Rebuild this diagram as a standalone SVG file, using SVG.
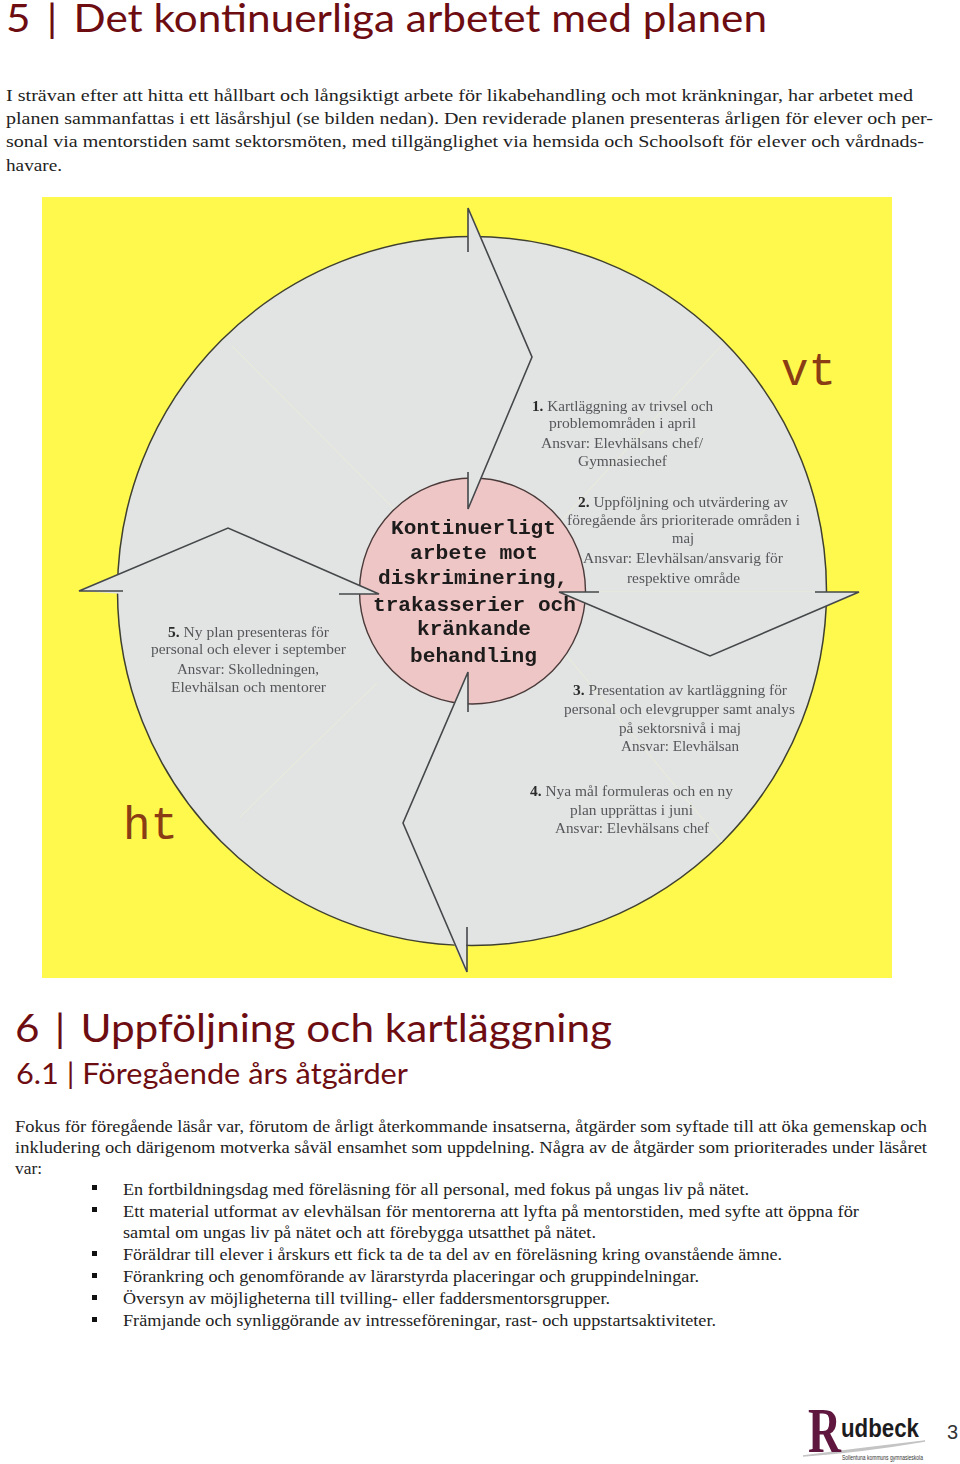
<svg xmlns="http://www.w3.org/2000/svg" width="960" height="1464" viewBox="0 0 960 1464">
<defs><filter id="soft" x="-5%" y="-5%" width="110%" height="110%"><feGaussianBlur stdDeviation="0.35"/></filter></defs>
<style>
text{white-space:pre}
.h1{font-family:"Lato","Noto Sans",sans-serif;font-size:39px;fill:#6d0d12}
.h2{font-family:"Lato","Noto Sans",sans-serif;font-size:28px;fill:#6d0d12}
.b{font-family:"Liberation Serif",serif;font-size:17px;fill:#222}
.w{font-family:"Liberation Serif",serif;font-size:14.5px;fill:#55575a}
.w tspan{font-weight:bold;fill:#2a2a2a}
.c{font-family:"Liberation Mono",monospace;font-weight:bold;font-size:21px;fill:#1d1a1a}
.s{font-family:"Liberation Mono",monospace;font-size:46px;fill:#8a3c14}
.arrow{fill:#e2e4e3;stroke:none}
.edge{fill:none;stroke:#45484a;stroke-width:1.6;stroke-linejoin:miter}
.faint{stroke:#ebecd8;stroke-width:1;fill:none}
.bul{fill:#111}
</style>
<rect width="960" height="1464" fill="#fff"/>
<g id="heading-5">
<text class="h1" x="6" y="32" textLength="761" lengthAdjust="spacingAndGlyphs">5 <tspan dx="5">|</tspan> <tspan dx="5">Det</tspan> kontinuerliga arbetet med planen</text>
</g>
<g id="intro">
<text class="b" x="6" y="101" textLength="907" lengthAdjust="spacingAndGlyphs">I strävan efter att hitta ett hållbart och långsiktigt arbete för likabehandling och mot kränkningar, har arbetet med</text>
<text class="b" x="6" y="124" textLength="927" lengthAdjust="spacingAndGlyphs">planen sammanfattas i ett läsårshjul (se bilden nedan). Den reviderade planen presenteras årligen för elever och per-</text>
<text class="b" x="6" y="147" textLength="918" lengthAdjust="spacingAndGlyphs">sonal via mentorstiden samt sektorsmöten, med tillgänglighet via hemsida och Schoolsoft för elever och vårdnads-</text>
<text class="b" x="6" y="171" textLength="56" lengthAdjust="spacingAndGlyphs">havare.</text>
</g>
<g id="wheel-background">
<rect x="42" y="197" width="850" height="781" fill="#fff94d"/>
<circle cx="472" cy="591" r="354.5" fill="#e2e4e3" stroke="#3f4030" stroke-width="1.5"/>
<path class="faint" d="M395 510L232 346M560 522L722 345M600 592H815M566 655L722 842M377 683L240 817"/>
</g>
<g id="center-disc">
<circle cx="472.5" cy="591" r="113" fill="#efc6c6" stroke="#4a3a3a" stroke-width="1.4"/>
</g>
<g id="connectors">
<polygon class="arrow" points="468,208 532,357 468,509"/>
<path class="edge" d="M468 252V208L532 357L468 509V472"/>
<polygon class="arrow" points="859,592 710,656 559,592"/>
<path class="edge" d="M815 592H859L710 656L559 592H599"/>
<polygon class="arrow" points="466,972 403,823 468,672"/>
<path class="edge" d="M467 927V972L403 823L468 672V712"/>
<polygon class="arrow" points="79,591 228,528 379,594 123,594"/>
<path class="edge" d="M123 591H79L228 528L379 594H339"/>
</g>
<g id="center-label" filter="url(#soft)">
<text class="c" x="391" y="534" textLength="165" lengthAdjust="spacingAndGlyphs">Kontinuerligt</text>
<text class="c" x="410" y="559" textLength="128" lengthAdjust="spacingAndGlyphs">arbete mot</text>
<text class="c" x="378" y="584" textLength="190" lengthAdjust="spacingAndGlyphs">diskriminering,</text>
<text class="c" x="373" y="611" textLength="203" lengthAdjust="spacingAndGlyphs">trakasserier och</text>
<text class="c" x="417" y="635" textLength="114" lengthAdjust="spacingAndGlyphs">kränkande</text>
<text class="c" x="410" y="662" textLength="127" lengthAdjust="spacingAndGlyphs">behandling</text>
</g>
<g id="season-vt"><text class="s" x="781" y="385" textLength="55" lengthAdjust="spacingAndGlyphs">vt</text></g>
<g id="season-ht"><text class="s" x="123" y="839" textLength="55" lengthAdjust="spacingAndGlyphs">ht</text></g>
<g id="step-1" filter="url(#soft)">
<text class="w" x="532" y="411" textLength="181" lengthAdjust="spacingAndGlyphs"><tspan>1.</tspan> Kartläggning av trivsel och</text>
<text class="w" x="549" y="428" textLength="147" lengthAdjust="spacingAndGlyphs">problemområden i april</text>
<text class="w" x="541" y="448" textLength="162" lengthAdjust="spacingAndGlyphs">Ansvar: Elevhälsans chef/</text>
<text class="w" x="578" y="466" textLength="89" lengthAdjust="spacingAndGlyphs">Gymnasiechef</text>
</g>
<g id="step-2" filter="url(#soft)">
<text class="w" x="578" y="507" textLength="210" lengthAdjust="spacingAndGlyphs"><tspan>2.</tspan> Uppföljning och utvärdering av</text>
<text class="w" x="567" y="525" textLength="233" lengthAdjust="spacingAndGlyphs">föregående års prioriterade områden i</text>
<text class="w" x="672" y="543" textLength="22" lengthAdjust="spacingAndGlyphs">maj</text>
<text class="w" x="583" y="563" textLength="200" lengthAdjust="spacingAndGlyphs">Ansvar: Elevhälsan/ansvarig för</text>
<text class="w" x="627" y="583" textLength="113" lengthAdjust="spacingAndGlyphs">respektive område</text>
</g>
<g id="step-3" filter="url(#soft)">
<text class="w" x="573" y="695" textLength="214" lengthAdjust="spacingAndGlyphs"><tspan>3.</tspan> Presentation av kartläggning för</text>
<text class="w" x="564" y="714" textLength="231" lengthAdjust="spacingAndGlyphs">personal och elevgrupper samt analys</text>
<text class="w" x="619" y="733" textLength="122" lengthAdjust="spacingAndGlyphs">på sektorsnivå i maj</text>
<text class="w" x="621" y="751" textLength="118" lengthAdjust="spacingAndGlyphs">Ansvar: Elevhälsan</text>
</g>
<g id="step-4" filter="url(#soft)">
<text class="w" x="530" y="796" textLength="203" lengthAdjust="spacingAndGlyphs"><tspan>4.</tspan> Nya mål formuleras och en ny</text>
<text class="w" x="570" y="815" textLength="123" lengthAdjust="spacingAndGlyphs">plan upprättas i juni</text>
<text class="w" x="555" y="833" textLength="154" lengthAdjust="spacingAndGlyphs">Ansvar: Elevhälsans chef</text>
</g>
<g id="step-5" filter="url(#soft)">
<text class="w" x="168" y="637" textLength="161" lengthAdjust="spacingAndGlyphs"><tspan>5.</tspan> Ny plan presenteras för</text>
<text class="w" x="151" y="654" textLength="195" lengthAdjust="spacingAndGlyphs">personal och elever i september</text>
<text class="w" x="177" y="674" textLength="142" lengthAdjust="spacingAndGlyphs">Ansvar: Skolledningen,</text>
<text class="w" x="171" y="692" textLength="155" lengthAdjust="spacingAndGlyphs">Elevhälsan och mentorer</text>
</g>
<g id="heading-6">
<text class="h1" x="15" y="1042" textLength="597" lengthAdjust="spacingAndGlyphs">6 <tspan dx="4">|</tspan> <tspan dx="4">Uppföljning</tspan> och kartläggning</text>
<text class="h2" x="16" y="1084" textLength="392" lengthAdjust="spacingAndGlyphs">6.1 | Föregående års åtgärder</text>
</g>
<g id="body">
<text class="b" x="15" y="1132" textLength="912" lengthAdjust="spacingAndGlyphs">Fokus för föregående läsår var, förutom de årligt återkommande insatserna, åtgärder som syftade till att öka gemenskap och</text>
<text class="b" x="15" y="1153" textLength="912" lengthAdjust="spacingAndGlyphs">inkludering och därigenom motverka såväl ensamhet som uppdelning. Några av de åtgärder som prioriterades under läsåret</text>
<text class="b" x="15" y="1174" textLength="27" lengthAdjust="spacingAndGlyphs">var:</text>
</g>
<g id="bullets">
<rect class="bul" x="92" y="1185" width="5" height="5"/>
<rect class="bul" x="92" y="1207" width="5" height="5"/>
<rect class="bul" x="92" y="1251" width="5" height="5"/>
<rect class="bul" x="92" y="1273" width="5" height="5"/>
<rect class="bul" x="92" y="1295" width="5" height="5"/>
<rect class="bul" x="92" y="1317" width="5" height="5"/>
<text class="b" x="123" y="1195" textLength="626" lengthAdjust="spacingAndGlyphs">En fortbildningsdag med föreläsning för all personal, med fokus på ungas liv på nätet.</text>
<text class="b" x="123" y="1217" textLength="736" lengthAdjust="spacingAndGlyphs">Ett material utformat av elevhälsan för mentorerna att lyfta på mentorstiden, med syfte att öppna för</text>
<text class="b" x="123" y="1238" textLength="473" lengthAdjust="spacingAndGlyphs">samtal om ungas liv på nätet och att förebygga utsatthet på nätet.</text>
<text class="b" x="123" y="1260" textLength="659" lengthAdjust="spacingAndGlyphs">Föräldrar till elever i årskurs ett fick ta de ta del av en föreläsning kring ovanstående ämne.</text>
<text class="b" x="123" y="1282" textLength="576" lengthAdjust="spacingAndGlyphs">Förankring och genomförande av lärarstyrda placeringar och gruppindelningar.</text>
<text class="b" x="123" y="1304" textLength="487" lengthAdjust="spacingAndGlyphs">Översyn av möjligheterna till tvilling- eller faddersmentorsgrupper.</text>
<text class="b" x="123" y="1326" textLength="593" lengthAdjust="spacingAndGlyphs">Främjande och synliggörande av intresseföreningar, rast- och uppstartsaktiviteter.</text>
</g>
<g id="logo">
<path d="M803 1456Q860 1452 925 1441Q865 1448 803 1456Z" fill="#b5b5b5" stroke="#c4c4c4" stroke-width="1.5"/>
<text x="808" y="1452" font-family="Liberation Serif,serif" font-weight="bold" font-size="64" fill="#5f1740" textLength="33" lengthAdjust="spacingAndGlyphs">R</text>
<text x="841" y="1437" font-family="Liberation Sans,sans-serif" font-weight="bold" font-size="26" fill="#1c1c20" textLength="78" lengthAdjust="spacingAndGlyphs">udbeck</text>
<text x="842" y="1460" font-family="Liberation Sans,sans-serif" font-size="6.5" fill="#333" textLength="81" lengthAdjust="spacingAndGlyphs">Sollentuna kommuns gymnasieskola</text>
</g>
<g id="page-number"><text x="947" y="1439" font-family="Liberation Sans,sans-serif" font-size="20" fill="#333">3</text></g>
</svg>
